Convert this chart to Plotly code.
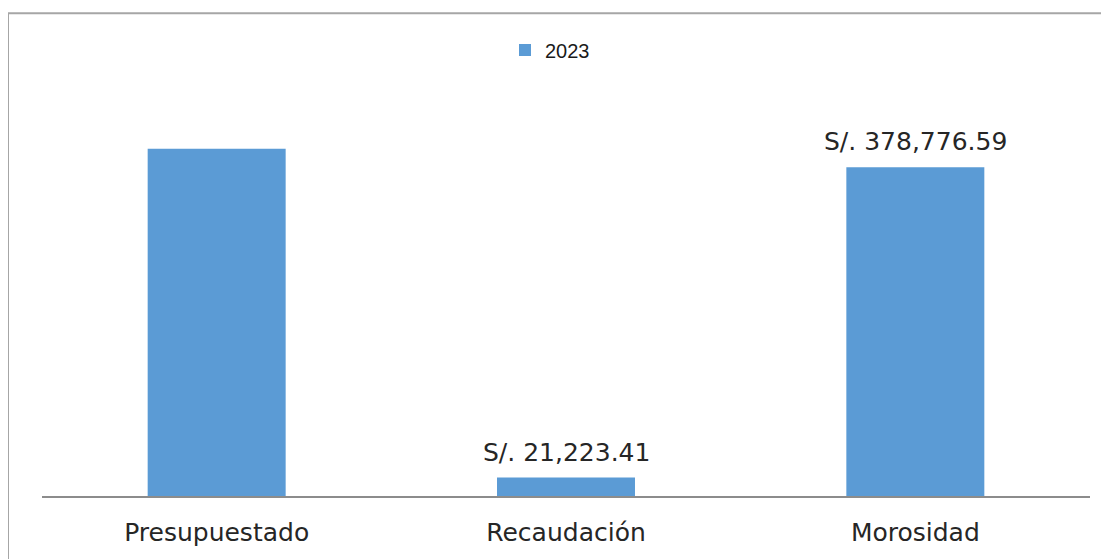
import plotly.graph_objects as go

categories = ["Presupuestado", "Recaudación", "Morosidad"]
values = [400000.00, 21223.41, 378776.59]
labels = ["", "S/. 21,223.41", "S/. 378,776.59"]
series_name = "2023"

# page has an 8px body margin, so the figure is offset by 8px
OFF = 8
W, H = 1109 - OFF, 559 - OFF
ml, mr, mt, mb = 42 - OFF, 19, 80 - OFF, 54

fig = go.Figure()
fig.add_trace(go.Bar(
    x=categories, y=values, name=series_name,
    marker=dict(color="#5B9BD5", line=dict(width=0)),
    showlegend=True,
))

for c, v, t in zip(categories, values, labels):
    if t:
        fig.add_annotation(x=c, y=v, text=t, showarrow=False, yanchor="bottom",
                           yshift=9, font=dict(family="DejaVu Sans", size=25, color="#262626"))

pw = W - ml - mr
ph = H - mt - mb
def px_x(p):
    return (p - OFF - ml) / pw
def px_y(p):
    return (H - mb - (p - OFF)) / ph

fig.add_shape(type="rect", xref="paper", yref="paper",
              x0=px_x(8), x1=px_x(1130), y0=px_y(590), y1=px_y(10),
              line=dict(color="#a6a6a6", width=2), fillcolor="rgba(0,0,0,0)", layer="below")

fig.update_layout(
    width=W, height=H,
    margin=dict(l=ml, r=mr, t=mt, b=mb),
    paper_bgcolor="white", plot_bgcolor="white",
    bargap=0.605,
    font=dict(family="DejaVu Sans", color="#262626"),
    legend=dict(orientation="h", xref="container", yref="container", x=(550 - OFF) / W, xanchor="center",
                y=1 - (50 - OFF) / H, yanchor="middle",
                font=dict(family="Liberation Sans", size=20, color="#1a1a1a")),
    xaxis=dict(showline=True, linecolor="#8c8c8c", linewidth=2, ticks="", showgrid=False,
               tickfont=dict(family="DejaVu Sans", size=25, color="#262626"), ticklabelstandoff=13),
    yaxis=dict(visible=False, range=[0, 477500], showgrid=False, zeroline=False),
)

fig.write_html("out.html")
